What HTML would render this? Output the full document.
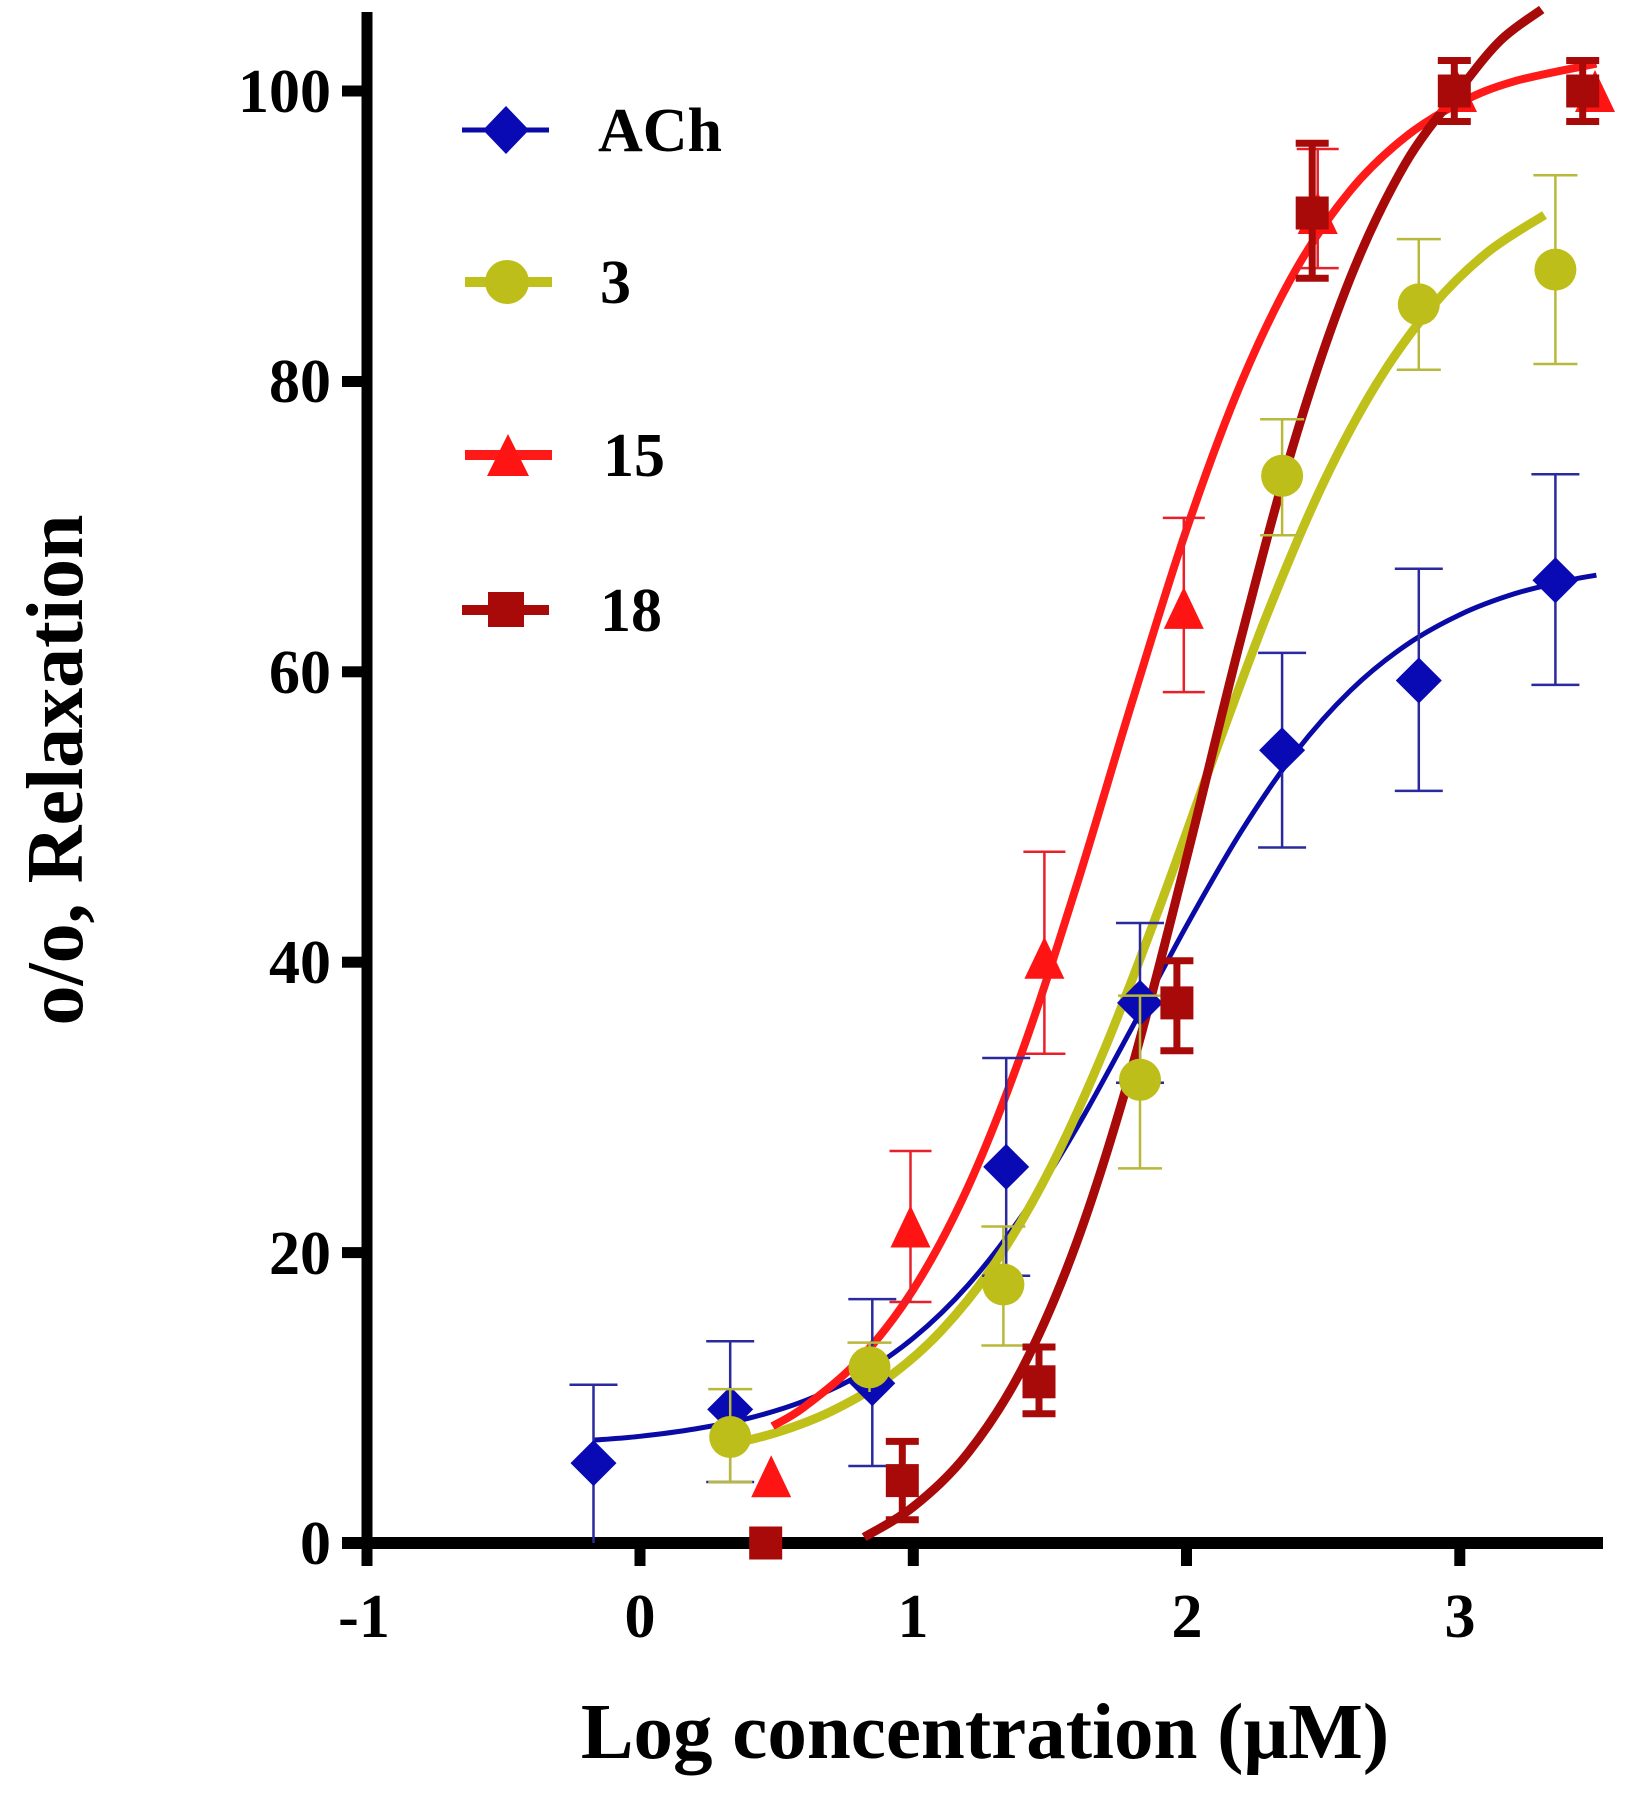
<!DOCTYPE html>
<html>
<head>
<meta charset="utf-8">
<style>
html,body{margin:0;padding:0;background:#fff;}
svg{display:block;}
text{font-family:"Liberation Serif","Times New Roman",serif;font-weight:bold;fill:#000;}
</style>
</head>
<body>
<svg width="1637" height="1794" viewBox="0 0 1637 1794" xmlns="http://www.w3.org/2000/svg">
<rect x="0" y="0" width="1637" height="1794" fill="#fff"/>

<!-- Axes -->
<g fill="#000">
  <rect x="361.5" y="12" width="11" height="1554"/>
  <rect x="342" y="1537" width="1261" height="12"/>
  <rect x="342" y="85.5" width="25" height="11"/>
  <rect x="342" y="376" width="25" height="11"/>
  <rect x="342" y="666.3" width="25" height="11"/>
  <rect x="342" y="956.7" width="25" height="11"/>
  <rect x="342" y="1247.1" width="25" height="11"/>
  <rect x="634.5" y="1543" width="11" height="23"/>
  <rect x="907.8" y="1543" width="11" height="23"/>
  <rect x="1181" y="1543" width="11" height="23"/>
  <rect x="1454.3" y="1543" width="11" height="23"/>
</g>

<!-- Y tick labels -->
<g font-size="62" text-anchor="end">
  <text x="331" y="112">100</text>
  <text x="331" y="402">80</text>
  <text x="331" y="693">60</text>
  <text x="331" y="983">40</text>
  <text x="331" y="1274">20</text>
  <text x="331" y="1564">0</text>
</g>
<!-- X tick labels -->
<g font-size="62" text-anchor="middle">
  <text x="364" y="1637">-1</text>
  <text x="640" y="1637">0</text>
  <text x="913" y="1637">1</text>
  <text x="1187" y="1637">2</text>
  <text x="1460" y="1637">3</text>
</g>

<!-- Axis titles -->
<text x="985" y="1758" font-size="79" text-anchor="middle">Log concentration (μM)</text>
<text transform="translate(82,770) rotate(-90)" font-size="80" text-anchor="middle">o/o, Relaxation</text>

<!-- Curves -->
<g fill="none" stroke-linejoin="round">
  <path stroke="#0a0aa6" stroke-width="5" d="M593.5,1440.2 C601.25,1439.55 623.13,1438.17 640,1436.3 S676.48,1432.03 694.7,1429 S731.08,1422.75 749.3,1418.1 S785.78,1408.18 804,1401.1 S840.38,1386.1 858.6,1375.6 S895.08,1353.15 913.3,1338.1 S949.68,1305.87 967.9,1285.3 S1004.38,1241.07 1022.6,1214.7 S1058.98,1158.25 1077.2,1127.1 S1113.68,1061.35 1131.9,1027.8 S1168.28,958.53 1186.5,925.8 S1222.98,860.37 1241.2,831.4 S1277.58,775.48 1295.8,752 S1332.28,708.2 1350.5,690.5 S1386.88,658.43 1405.1,645.8 S1441.58,623.37 1459.8,614.7 S1496.18,599.55 1514.4,593.8 S1555.43,583.3 1569.1,580.2 S1591.85,576.03 1596.4,575.2"/>
  <path stroke="#c0c01a" stroke-width="9" d="M722,1446.3 C731.1,1444 758.38,1438.33 776.6,1432.5 S813.08,1420.18 831.3,1411.3 S867.68,1392.52 885.9,1379.2 S922.38,1350.78 940.6,1331.4 S976.98,1289.92 995.2,1262.9 S1031.68,1204.9 1049.9,1169.3 S1086.28,1092.87 1104.5,1049.3 S1140.98,956.68 1159.2,907.9 S1195.58,806.12 1213.8,756.6 S1250.28,656.32 1268.5,610.8 S1304.88,521.67 1323.1,483.5 S1359.58,411.35 1377.8,381.8 S1414.18,327.73 1432.4,306.2 S1468.42,267.8 1487.1,252.6 S1534.93,221.27 1544.5,215"/>
  <path stroke="#ff1a1a" stroke-width="8" d="M772.5,1426.1 C777.75,1422.95 789.65,1418.17 804,1407.2 S840.38,1379.92 858.6,1360.3 S895.08,1318.33 913.3,1289.5 S949.68,1227.18 967.9,1187.3 S1004.38,1100.83 1022.6,1050.2 S1058.98,941.43 1077.2,883.5 S1113.68,761.6 1131.9,702.6 S1168.28,582.82 1186.5,529.5 S1222.98,425.97 1241.2,382.7 S1277.58,301.97 1295.8,269.9 S1332.28,212.42 1350.5,190.3 S1386.88,151.78 1405.1,137.2 S1441.58,112.12 1459.8,102.8 S1491.63,87.83 1514.4,81.3 S1582.73,66.55 1596.4,63.6"/>
  <path stroke="#a80a0a" stroke-width="9" d="M864.1,1537.2 C872.3,1532.13 896,1520.83 913.3,1506.8 S949.68,1476.15 967.9,1453 S1004.38,1403.23 1022.6,1367.9 S1058.98,1290.98 1077.2,1241 S1113.68,1131.8 1131.9,1068 S1168.28,929.97 1186.5,858.2 S1222.98,707.65 1241.2,637.4 S1277.58,496.67 1295.8,436.7 S1332.28,323.05 1350.5,277.6 S1386.88,195.37 1405.1,164 S1443.87,110.03 1459.8,89.4 S1487.05,53.52 1500.7,40.2 S1534.87,14.62 1541.7,9.5"/>
</g>

<!-- ACh error bars -->
<g stroke="#2a2a9e" stroke-width="2.5" fill="none">
  <path d="M593.5,1384.7V1543M569.5,1384.7h48"/>
  <path d="M730.2,1341.2V1482M706.2,1341.2h48M706.2,1482h48"/>
  <path d="M872.3,1299.1V1466M848.3,1299.1h48M848.3,1466h48"/>
  <path d="M1006.2,1058V1275.8M982.2,1058h48M982.2,1275.8h48"/>
  <path d="M1140,923V1082.7M1116,923h48M1116,1082.7h48"/>
  <path d="M1282.1,652.9V847.5M1258.1,652.9h48M1258.1,847.5h48"/>
  <path d="M1418.8,568.7V790.9M1394.8,568.7h48M1394.8,790.9h48"/>
  <path d="M1555.4,474.3V684.9M1531.4,474.3h48M1531.4,684.9h48"/>
</g>
<g fill="#0a0ab4">
  <path d="M593.5,1440.1l23,23l-23,23l-23,-23z"/>
  <path d="M730.2,1386.4l23,23l-23,23l-23,-23z"/>
  <path d="M872.3,1360.3l23,23l-23,23l-23,-23z"/>
  <path d="M1006.2,1143.9l23,23l-23,23l-23,-23z"/>
  <path d="M1140,979.9l23,23l-23,23l-23,-23z"/>
  <path d="M1282.1,727.2l23,23l-23,23l-23,-23z"/>
  <path d="M1418.8,657.5l23,23l-23,23l-23,-23z"/>
  <path d="M1555.4,557.3l23,23l-23,23l-23,-23z"/>
</g>

<!-- Compound 3 -->
<g stroke="#b8b83a" stroke-width="2.5" fill="none">
  <path d="M730.2,1389.1V1482M708.2,1389.1h44M708.2,1482h44"/>
  <path d="M869.5,1342.6V1392M847.5,1342.6h44"/>
  <path d="M1003.4,1226.5V1345.5M981.4,1226.5h44M981.4,1345.5h44"/>
  <path d="M1140,995.6V1168.4M1118,995.6h44M1118,1168.4h44"/>
  <path d="M1282.1,419.2V535.3M1260.1,419.2h44M1260.1,535.3h44"/>
  <path d="M1418.8,239.1V369.8M1396.8,239.1h44M1396.8,369.8h44"/>
  <path d="M1555.4,175.2V364M1533.4,175.2h44M1533.4,364h44"/>
</g>
<g fill="#bebe1a">
  <circle cx="730.2" cy="1437" r="21"/>
  <circle cx="869.5" cy="1367.3" r="21"/>
  <circle cx="1003.4" cy="1284.5" r="21"/>
  <circle cx="1140" cy="1079.8" r="21"/>
  <circle cx="1282.1" cy="475.8" r="21"/>
  <circle cx="1418.8" cy="304.4" r="21"/>
  <circle cx="1555.4" cy="269.6" r="21"/>
</g>

<!-- Compound 15 -->
<g stroke="#e8202a" stroke-width="2.5" fill="none">
  <path d="M910.5,1151V1302M889.5,1151h42M889.5,1302h42"/>
  <path d="M1044.4,851.8V1053.7M1023.4,851.8h42M1023.4,1053.7h42"/>
  <path d="M1183.8,517.9V692.1M1162.8,517.9h42M1162.8,692.1h42"/>
  <path d="M1317.7,149V268.1M1296.7,149h42M1296.7,268.1h42"/>
</g>
<g fill="#ff1414">
  <path d="M771.2,1455.2l20,42h-40z"/>
  <path d="M910.5,1205.5l20,42h-40z"/>
  <path d="M1044.4,936.8l20,42h-40z"/>
  <path d="M1183.8,586.9l20,42h-40z"/>
  <path d="M1317.7,192l20,42h-40z"/>
  <path d="M1457,70l20,42h-40z"/>
  <path d="M1595,70l20,42h-40z"/>
</g>

<!-- Compound 18 -->
<g stroke="#a80a0a" stroke-width="7" fill="none">
  <path d="M902.3,1441.4V1519.8M885.8,1441.4h33M885.8,1519.8h33"/>
  <path d="M1039,1347V1413.8M1022.5,1347h33M1022.5,1413.8h33"/>
  <path d="M1176.9,960.7V1050.8M1160.4,960.7h33M1160.4,1050.8h33"/>
  <path d="M1312.2,143.3V278.3M1295.7,143.3h33M1295.7,278.3h33"/>
  <path d="M1454.3,60.5V121.5M1437.8,60.5h33M1437.8,121.5h33"/>
  <path d="M1582.7,60.5V121.5M1566.2,60.5h33M1566.2,121.5h33"/>
</g>
<g fill="#a80a0a">
  <rect x="749.2" y="1526.5" width="33" height="33"/>
  <rect x="885.8" y="1464.1" width="33" height="33"/>
  <rect x="1022.5" y="1365.3" width="33" height="33"/>
  <rect x="1160.4" y="986.4" width="33" height="33"/>
  <rect x="1295.7" y="196.5" width="33" height="33"/>
  <rect x="1437.8" y="74.5" width="33" height="33"/>
  <rect x="1566.2" y="74.5" width="33" height="33"/>
</g>

<!-- Legend -->
<g>
  <line x1="462" y1="130" x2="549" y2="130" stroke="#0a0aa6" stroke-width="5"/>
  <path d="M506,106l23,24l-23,24l-23,-24z" fill="#0a0ab4"/>
  <text x="598" y="151" font-size="62">ACh</text>

  <line x1="465" y1="282" x2="552" y2="282" stroke="#c0c01a" stroke-width="10"/>
  <circle cx="507" cy="282" r="22" fill="#bebe1a"/>
  <text x="600" y="303" font-size="62">3</text>

  <line x1="465" y1="455" x2="552" y2="455" stroke="#ff1a1a" stroke-width="10"/>
  <path d="M508,434l21,42h-42z" fill="#ff1414"/>
  <text x="603" y="476" font-size="62">15</text>

  <line x1="462" y1="610" x2="549" y2="610" stroke="#a80a0a" stroke-width="10"/>
  <rect x="488" y="592" width="36" height="35" fill="#a80a0a"/>
  <text x="600" y="631" font-size="62">18</text>
</g>
</svg>
</body>
</html>
